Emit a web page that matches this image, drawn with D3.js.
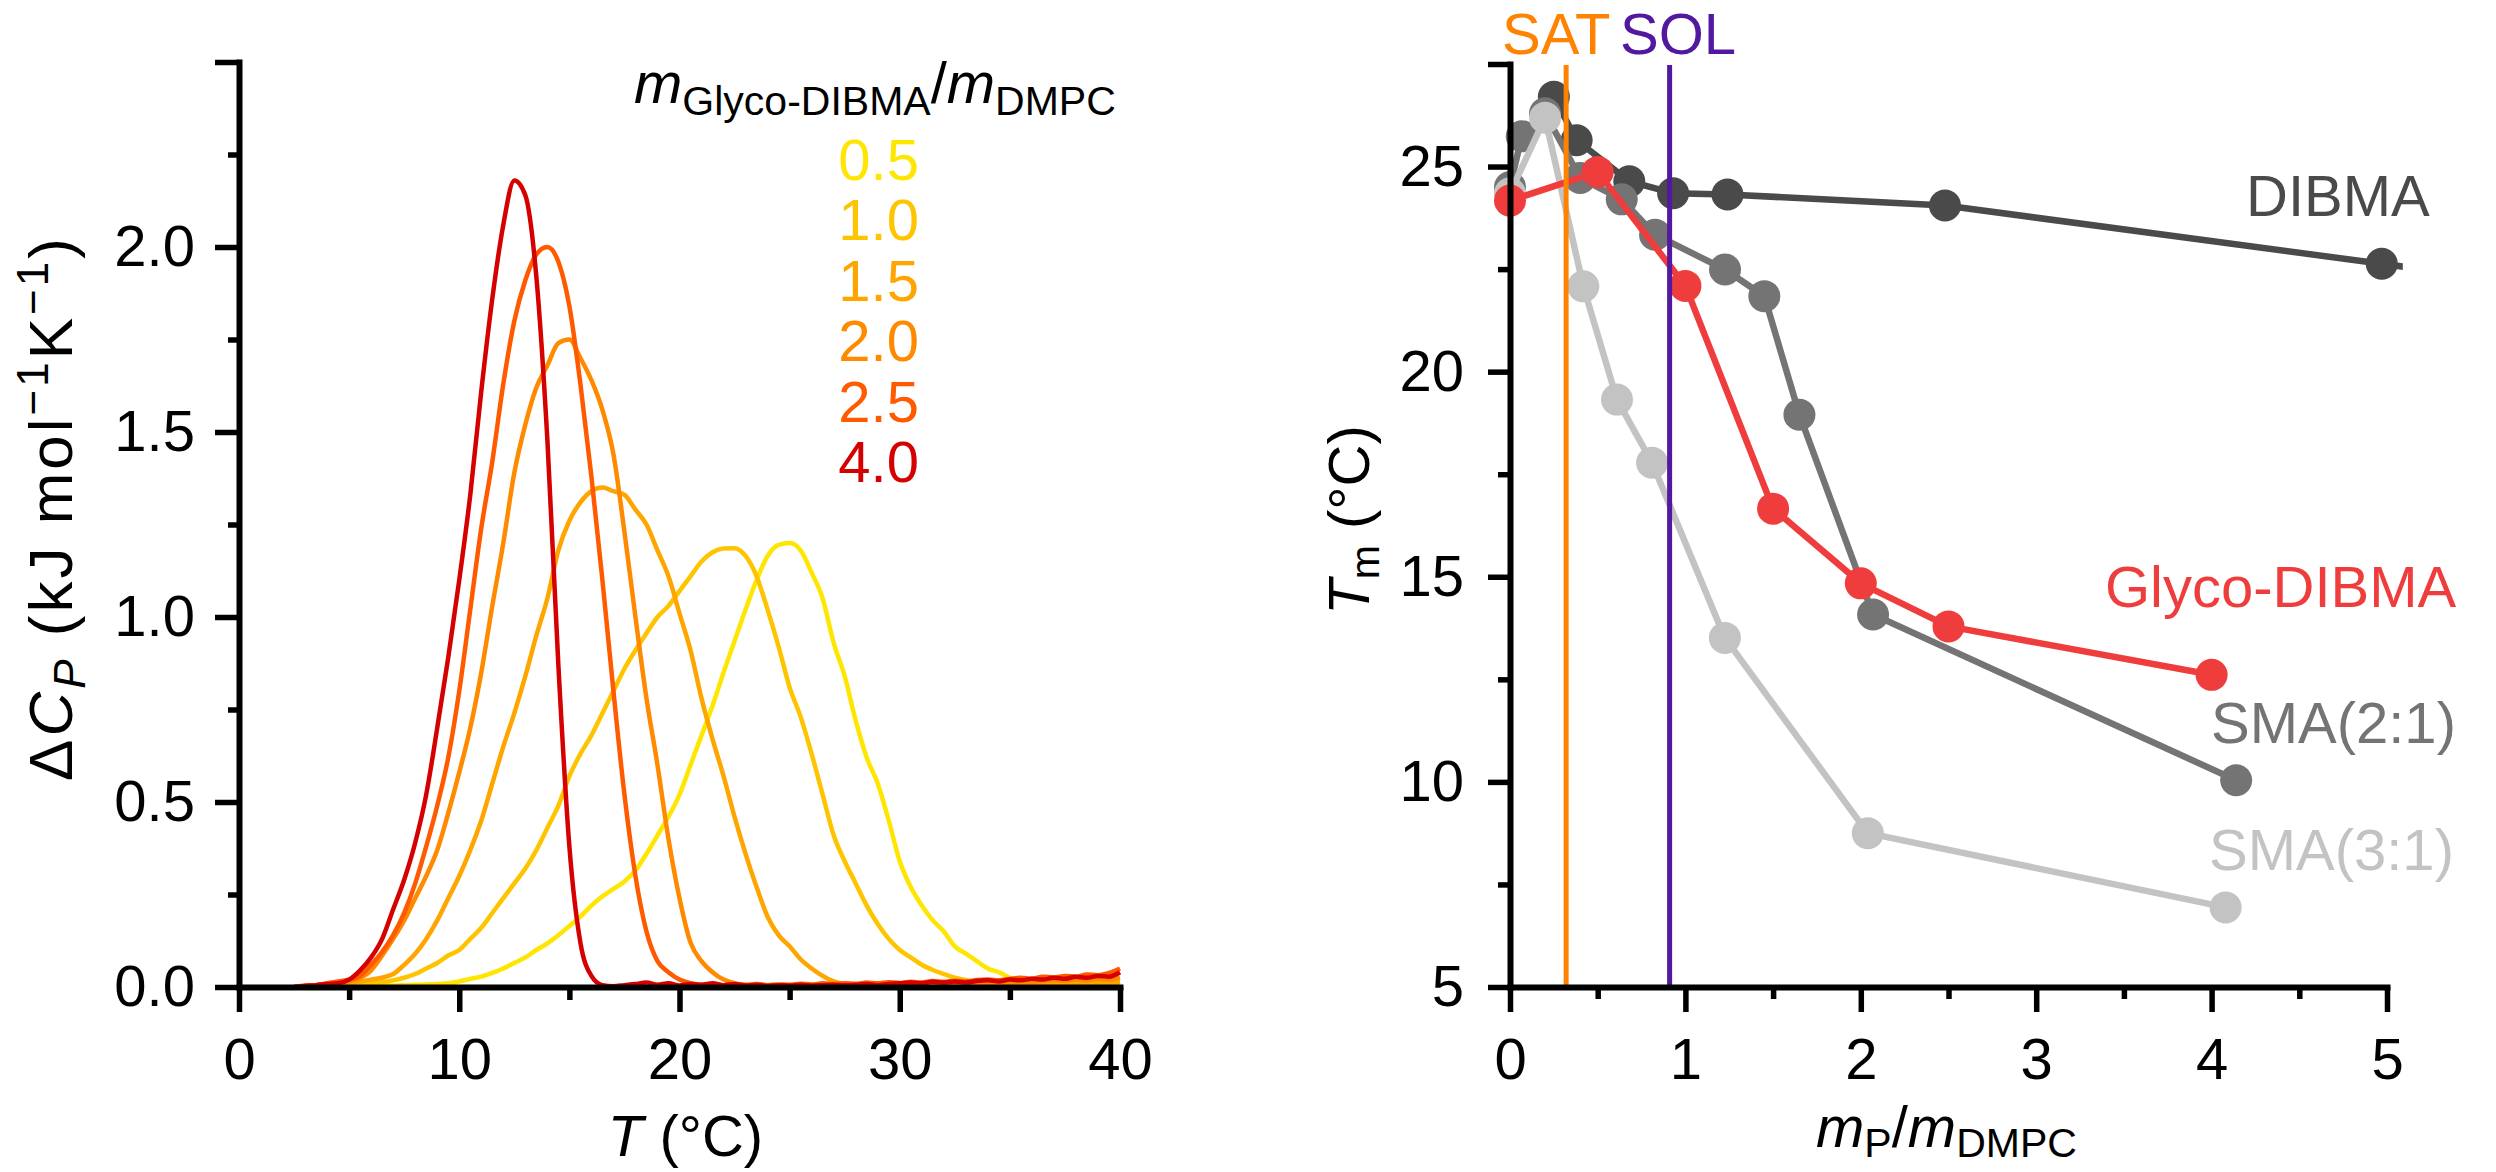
<!DOCTYPE html>
<html>
<head>
<meta charset="utf-8">
<script src="https://cdn.jsdelivr.net/npm/d3@7"></script>
<style>
  html, body { margin: 0; padding: 0; background: #fff; }
  svg { display: block; font-family: "Liberation Sans", Arial, Helvetica, sans-serif; }
</style>
</head>
<body>
<svg id="fig" width="2496" height="1172"></svg>
<script>
// ---------- Left panel: DSC thermograms ----------
// Temperature grid (°C) shared by all thermograms
const temperature = [
  2.5, 3, 3.5, 4, 4.5, 5, 5.5, 6, 6.5, 7,
  7.5, 8, 8.5, 9, 9.5, 10, 10.5, 11, 11.5, 12,
  12.5, 13, 13.5, 14, 14.5, 15, 15.5, 16, 16.5, 17,
  17.5, 18, 18.5, 19, 19.5, 20, 20.5, 21, 21.5, 22,
  22.5, 23, 23.5, 24, 24.5, 25, 25.5, 26, 26.5, 27,
  27.5, 28, 28.5, 29, 29.5, 30, 30.5, 31, 31.5, 32,
  32.5, 33, 33.5, 34, 34.5, 35, 35.5, 36, 36.5, 37,
  37.5, 38, 38.5, 39, 39.5, 40
];

// Excess heat capacity ΔCp (kJ mol^-1 K^-1) for each Glyco-DIBMA/DMPC mass ratio
const cp_05 = [
  0, 0.002, 0.003, 0.002, 0.004, 0.003, 0.004, 0.003, 0.005, 0.004,
  0.005, 0.006, 0.007, 0.008, 0.01, 0.015, 0.022, 0.028, 0.038, 0.05,
  0.065, 0.08, 0.10, 0.118, 0.14, 0.165, 0.19, 0.22, 0.245, 0.265,
  0.285, 0.315, 0.36, 0.41, 0.46, 0.52, 0.60, 0.68, 0.76, 0.85,
  0.935, 1.02, 1.10, 1.165, 1.195, 1.20, 1.18, 1.12, 1.05, 0.93,
  0.84, 0.72, 0.62, 0.55, 0.45, 0.34, 0.27, 0.22, 0.18, 0.15,
  0.11, 0.09, 0.07, 0.05, 0.04, 0.025, 0.015, 0.01, 0.006, 0.004,
  0.004, 0.005, 0.004, 0.006, 0.005, 0.008
];
const cp_10 = [
  0, 0.001, 0.002, 0.003, 0.005, 0.006, 0.008, 0.01, 0.013, 0.018,
  0.025, 0.035, 0.05, 0.065, 0.085, 0.10, 0.13, 0.16, 0.20, 0.24,
  0.28, 0.32, 0.37, 0.43, 0.49, 0.57, 0.63, 0.68, 0.74, 0.80,
  0.86, 0.91, 0.956, 1.0, 1.03, 1.07, 1.11, 1.15, 1.175, 1.185,
  1.186, 1.165, 1.11, 1.02, 0.92, 0.81, 0.73, 0.63, 0.52, 0.41,
  0.34, 0.28, 0.22, 0.17, 0.13, 0.10, 0.08, 0.06, 0.046, 0.035,
  0.025, 0.019, 0.012, 0.008, 0.005, 0.004, 0.005, 0.004, 0.006, 0.005,
  0.006, 0.005, 0.007, 0.006, 0.008, 0.01
];
const cp_15 = [
  0, 0.002, 0.003, 0.005, 0.008, 0.01, 0.015, 0.02, 0.025, 0.035,
  0.06, 0.09, 0.13, 0.18, 0.24, 0.30, 0.37, 0.45, 0.55, 0.65,
  0.74, 0.84, 0.95, 1.05, 1.18, 1.26, 1.31, 1.34, 1.35, 1.34,
  1.33, 1.29, 1.25, 1.18, 1.11, 1.01, 0.91, 0.78, 0.67, 0.57,
  0.46, 0.36, 0.27, 0.19, 0.14, 0.11, 0.075, 0.05, 0.03, 0.015,
  0.008, 0.005, 0.004, 0.003, 0.004, 0.003, 0.004, 0.003, 0.005, 0.004,
  0.005, 0.004, 0.006, 0.005, 0.006, 0.007, 0.006, 0.008, 0.007, 0.009,
  0.008, 0.01, 0.009, 0.012, 0.01, 0.014
];
const cp_20 = [
  0, 0.003, 0.005, 0.008, 0.01, 0.015, 0.025, 0.045, 0.085, 0.13,
  0.18, 0.24, 0.30, 0.37, 0.47, 0.58, 0.70, 0.85, 1.03, 1.20,
  1.39, 1.52, 1.62, 1.68, 1.74, 1.75, 1.70, 1.64, 1.56, 1.44,
  1.23, 1.00, 0.78, 0.60, 0.40, 0.24, 0.12, 0.07, 0.04, 0.02,
  0.01, 0.005, 0.004, 0.003, 0.005, 0.004, 0.003, 0.005, 0.004, 0.006,
  0.005, 0.004, 0.006, 0.005, 0.007, 0.006, 0.008, 0.007, 0.009, 0.008,
  0.01, 0.009, 0.012, 0.01, 0.013, 0.012, 0.015, 0.014, 0.016, 0.018,
  0.017, 0.02, 0.018, 0.022, 0.02, 0.025
];
const cp_25 = [
  0, 0.004, 0.005, 0.01, 0.015, 0.02, 0.03, 0.06, 0.095, 0.14,
  0.20, 0.28, 0.38, 0.49, 0.62, 0.80, 1.02, 1.24, 1.42, 1.63,
  1.80, 1.91, 1.98, 2.0, 1.96, 1.84, 1.63, 1.38, 1.10, 0.80,
  0.52, 0.30, 0.15, 0.07, 0.04, 0.02, 0.01, 0.006, 0.008, 0.005,
  0.007, 0.006, 0.008, 0.005, 0.007, 0.006, 0.009, 0.007, 0.01, 0.008,
  0.01, 0.009, 0.012, 0.01, 0.013, 0.011, 0.014, 0.012, 0.016, 0.014,
  0.017, 0.015, 0.019, 0.02, 0.018, 0.022, 0.025, 0.022, 0.028, 0.026,
  0.03, 0.028, 0.034, 0.032, 0.038, 0.05
];
const cp_40 = [
  0, 0.003, 0.005, 0.008, 0.01, 0.02, 0.045, 0.08, 0.13, 0.21,
  0.29, 0.39, 0.52, 0.70, 0.89, 1.10, 1.33, 1.61, 1.86, 2.06,
  2.18, 2.14, 1.92, 1.48, 0.87, 0.38, 0.12, 0.03, 0.005, 0.002,
  0.005, 0.008, 0.012, 0.006, 0.01, 0.004, 0.008, 0.006, 0.01, 0.005,
  0.008, 0.004, 0.006, 0.003, 0.005, 0.004, 0.006, 0.004, 0.005, 0.006,
  0.005, 0.006, 0.008, 0.005, 0.008, 0.01, 0.012, 0.01, 0.014, 0.012,
  0.015, 0.012, 0.016, 0.018, 0.015, 0.02, 0.018, 0.022, 0.02, 0.025,
  0.022, 0.028, 0.025, 0.03, 0.028, 0.04
];

const ratioLabels = ["0.5", "1.0", "1.5", "2.0", "2.5", "4.0"];
const ratioColors = ["#ffe600", "#ffc400", "#ffa500", "#ff8a00", "#ff5a00", "#d50000"];
const thermograms = [cp_05, cp_10, cp_15, cp_20, cp_25, cp_40];

const tempTicks = [0, 10, 20, 30, 40];
const tempMinorTicks = [5, 15, 25, 35];
const cpTicks = [0, 0.5, 1.0, 1.5, 2.0, 2.5];
const cpMinorTicks = [0.25, 0.75, 1.25, 1.75, 2.25];

// ---------- Right panel: transition temperature vs polymer/lipid ratio ----------
const dibmaRatio = [0.25, 0.38, 0.68, 0.93, 1.24, 2.48, 4.97, 5.6];
const dibmaTm    = [26.7, 25.64, 24.64, 24.35, 24.32, 24.05, 22.63, 22.27];
const sma21Ratio = [0, 0.067, 0.2, 0.40, 0.637, 0.827, 1.226, 1.45, 1.65, 2.07, 4.14];
const sma21Tm    = [24.5, 25.74, 26.3, 24.72, 24.2, 23.34, 22.49, 21.84, 18.95, 14.08, 10.04];
const sma31Ratio = [0, 0.2, 0.418, 0.61, 0.81, 1.225, 2.04, 4.08];
const sma31Tm    = [24.35, 26.19, 22.08, 19.32, 17.78, 13.51, 8.75, 6.94];
const glycoRatio = [0, 0.5, 1.0, 1.5, 2.0, 2.5, 4.0];
const glycoTm    = [24.17, 24.87, 22.09, 16.66, 14.84, 13.79, 12.61];

const polymerNames  = ["DIBMA", "SMA(2:1)", "SMA(3:1)", "Glyco-DIBMA"];
const polymerColors = ["#4a4a4a", "#747474", "#c3c3c3", "#ef3d3d"];

const satRatio = 0.32;   // saturation boundary
const solRatio = 0.91;   // solubilisation boundary

const ratioTicks = [0, 1, 2, 3, 4, 5];
const ratioMinorTicks = [0.5, 1.5, 2.5, 3.5, 4.5];
const tmTicks = [5, 10, 15, 20, 25, 27.5];
const tmMinorTicks = [7.5, 12.5, 17.5, 22.5];

// ---------- Drawing ----------
const svg = d3.select("#fig");
svg.append("rect").attr("width", 2496).attr("height", 1172).attr("fill", "#fff");

const FS = 58, SUB = 41;
const AXW = 6, TKW = 5.5;

function styleAxis(g, withDomain) {
  g.selectAll(".domain")
    .attr("stroke", withDomain ? "#000" : "none")
    .attr("stroke-width", AXW)
    .attr("stroke-linecap", "square");
  g.selectAll(".tick line").attr("stroke", "#000").attr("stroke-width", TKW);
  g.selectAll(".tick text")
    .attr("fill", "#000")
    .attr("font-size", FS)
    .attr("font-family", "'Liberation Sans', Arial, Helvetica, sans-serif");
}

// Left scales
const xL = d3.scaleLinear().domain([0, 40]).range([239, 1120]);
const yL = d3.scaleLinear().domain([0, 2.5]).range([987, 62]);

// Thermogram curves
const cpLine = d3.line()
  .x((d, i) => xL(temperature[i]))
  .y(d => yL(d))
  .curve(d3.curveMonotoneX);

const curves = svg.append("g");
thermograms.forEach((series, k) => {
  curves.append("path")
    .attr("d", cpLine(series))
    .attr("fill", "none")
    .attr("stroke", ratioColors[k])
    .attr("stroke-width", 4.5)
    .attr("stroke-linejoin", "round");
});

// Left axes
const gLXm = svg.append("g").attr("transform", `translate(0,${yL(0)})`)
  .call(d3.axisBottom(xL).tickValues(tempMinorTicks).tickSize(13).tickFormat(""));
styleAxis(gLXm, false);
const gLX = svg.append("g").attr("transform", `translate(0,${yL(0)})`)
  .call(d3.axisBottom(xL).tickValues(tempTicks).tickSize(25).tickSizeOuter(0)
    .tickPadding(26).tickFormat(d3.format("d")));
styleAxis(gLX, true);

const gLYm = svg.append("g").attr("transform", `translate(${xL(0)},0)`)
  .call(d3.axisLeft(yL).tickValues(cpMinorTicks).tickSize(11).tickFormat(""));
styleAxis(gLYm, false);
const gLY = svg.append("g").attr("transform", `translate(${xL(0)},0)`)
  .call(d3.axisLeft(yL).tickValues(cpTicks).tickSize(24).tickSizeOuter(0).tickPadding(20)
    .tickFormat(d => d === 2.5 ? "" : d3.format(".1f")(d)));
styleAxis(gLY, true);

// Left axis titles
const xTitleL = svg.append("text")
  .attr("x", (xL(0) + xL(40)) / 2 + 6).attr("y", 1156)
  .attr("text-anchor", "middle").attr("font-size", FS);
xTitleL.append("tspan").attr("font-style", "italic").text("T");
xTitleL.append("tspan").text(" (°C)");

const yTitleL = svg.append("text")
  .attr("transform", "translate(72,508) rotate(-90)")
  .attr("text-anchor", "middle").attr("font-size", 62)
  .attr("letter-spacing", 3);
yTitleL.append("tspan").text("Δ");
yTitleL.append("tspan").attr("font-style", "italic").text("C");
yTitleL.append("tspan").attr("font-style", "italic").attr("font-size", 44).attr("dy", 13).text("P");
yTitleL.append("tspan").attr("dy", -13).text(" (kJ mol");
yTitleL.append("tspan").attr("font-size", 44).attr("dy", -24).text("−1");
yTitleL.append("tspan").attr("dy", 24).text("K");
yTitleL.append("tspan").attr("font-size", 44).attr("dy", -24).text("−1");
yTitleL.append("tspan").attr("dy", 24).text(")");

// Legend
const legTitle = svg.append("text").attr("x", 634).attr("y", 103).attr("font-size", FS);
legTitle.append("tspan").attr("font-style", "italic").text("m");
legTitle.append("tspan").attr("font-size", SUB).attr("dy", 12).text("Glyco-DIBMA");
legTitle.append("tspan").attr("dy", -12).text("/");
legTitle.append("tspan").attr("font-style", "italic").text("m");
legTitle.append("tspan").attr("font-size", SUB).attr("dy", 12).text("DMPC");

svg.append("g").selectAll("text").data(ratioLabels).join("text")
  .attr("x", 919)
  .attr("y", (d, i) => 180 + i * 60.4)
  .attr("text-anchor", "end")
  .attr("font-size", FS)
  .attr("fill", (d, i) => ratioColors[i])
  .text(d => d);

// Right scales
const xR = d3.scaleLinear().domain([0, 5]).range([1510, 2387]);
const yR = d3.scaleLinear().domain([5, 27.5]).range([987, 64]);

svg.append("defs").append("clipPath").attr("id", "plotClipR")
  .append("rect")
  .attr("x", 1480).attr("y", 0)
  .attr("width", xR(5.09) - 1480).attr("height", 1172);

const seriesR = [
  { x: dibmaRatio, y: dibmaTm },
  { x: sma21Ratio, y: sma21Tm },
  { x: sma31Ratio, y: sma31Tm },
  { x: glycoRatio, y: glycoTm }
];
const tmLine = d3.line().x(d => xR(d[0])).y(d => yR(d[1]));
const dataR = svg.append("g").attr("clip-path", "url(#plotClipR)");
seriesR.forEach((s, k) => {
  const pts = s.x.map((v, i) => [v, s.y[i]]);
  const g = dataR.append("g");
  g.append("path").attr("d", tmLine(pts))
    .attr("fill", "none").attr("stroke", polymerColors[k])
    .attr("stroke-width", 6.5).attr("stroke-linejoin", "round");
  g.selectAll("circle").data(pts).join("circle")
    .attr("cx", d => xR(d[0])).attr("cy", d => yR(d[1]))
    .attr("r", 16).attr("fill", polymerColors[k]);
});

// SAT / SOL boundaries
[[satRatio, "#ff8200"], [solRatio, "#5218a0"]].forEach(([r, c]) => {
  svg.append("line")
    .attr("x1", xR(r)).attr("x2", xR(r))
    .attr("y1", yR(27.5) + 1).attr("y2", yR(5))
    .attr("stroke", c).attr("stroke-width", 5);
});
svg.append("text").attr("x", 1502).attr("y", 54).attr("font-size", FS)
  .attr("fill", "#ff8200").text("SAT");
svg.append("text").attr("x", 1620).attr("y", 54).attr("font-size", FS)
  .attr("fill", "#5218a0").text("SOL");

// Right axes
const gRXm = svg.append("g").attr("transform", `translate(0,${yR(5)})`)
  .call(d3.axisBottom(xR).tickValues(ratioMinorTicks).tickSize(12).tickFormat(""));
styleAxis(gRXm, false);
const gRX = svg.append("g").attr("transform", `translate(0,${yR(5)})`)
  .call(d3.axisBottom(xR).tickValues(ratioTicks).tickSize(25).tickSizeOuter(0)
    .tickPadding(26).tickFormat(d3.format("d")));
styleAxis(gRX, true);

const gRYm = svg.append("g").attr("transform", `translate(${xR(0)},0)`)
  .call(d3.axisLeft(yR).tickValues(tmMinorTicks).tickSize(12).tickFormat(""));
styleAxis(gRYm, false);
const gRY = svg.append("g").attr("transform", `translate(${xR(0)},0)`)
  .call(d3.axisLeft(yR).tickValues(tmTicks).tickSize(22).tickSizeOuter(0).tickPadding(24)
    .tickFormat(d => d === 27.5 ? "" : d3.format("d")(d)));
styleAxis(gRY, true);

// Right axis titles
const xTitleR = svg.append("text").attr("x", 1816).attr("y", 1147).attr("font-size", FS);
xTitleR.append("tspan").attr("font-style", "italic").text("m");
xTitleR.append("tspan").attr("font-size", SUB).attr("dy", 10).text("P");
xTitleR.append("tspan").attr("dy", -10).text("/");
xTitleR.append("tspan").attr("font-style", "italic").text("m");
xTitleR.append("tspan").attr("font-size", SUB).attr("dy", 10).text("DMPC");

const yTitleR = svg.append("text")
  .attr("transform", "translate(1369,520) rotate(-90)")
  .attr("text-anchor", "middle").attr("font-size", FS);
yTitleR.append("tspan").attr("font-style", "italic").text("T");
yTitleR.append("tspan").attr("font-size", SUB).attr("dy", 10).text("m");
yTitleR.append("tspan").attr("dy", -10).text(" (°C)");

// Series labels
const seriesLabels = [
  { text: polymerNames[0], x: 2246, y: 216, color: polymerColors[0] },
  { text: polymerNames[3], x: 2105, y: 607, color: polymerColors[3] },
  { text: polymerNames[1], x: 2211, y: 743, color: polymerColors[1] },
  { text: polymerNames[2], x: 2209, y: 870, color: polymerColors[2] }
];
svg.append("g").selectAll("text").data(seriesLabels).join("text")
  .attr("x", d => d.x).attr("y", d => d.y)
  .attr("font-size", FS).attr("fill", d => d.color)
  .text(d => d.text);
</script>
</body>
</html>
